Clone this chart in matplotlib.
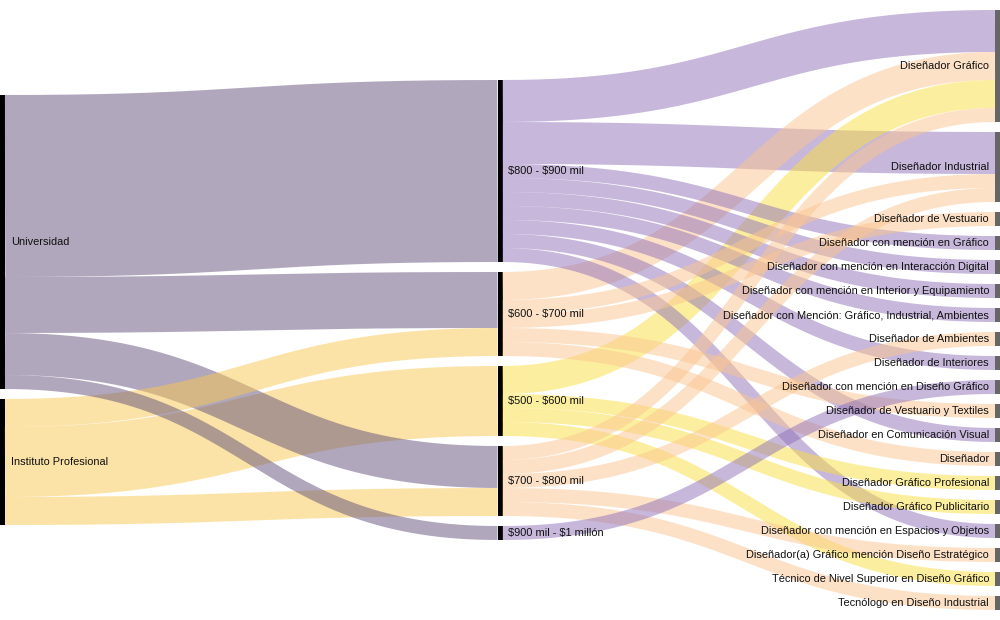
import numpy as np
import matplotlib.pyplot as plt

# nodes per column, top to bottom
col_left = ["Universidad", "Instituto Profesional"]
col_mid = ["$800 - $900 mil", "$600 - $700 mil", "$500 - $600 mil",
           "$700 - $800 mil", "$900 mil - $1 millón"]
col_right = [
    "Diseñador Gráfico",
    "Diseñador Industrial",
    "Diseñador de Vestuario",
    "Diseñador con mención en Gráfico",
    "Diseñador con mención en Interacción Digital",
    "Diseñador con mención en Interior y Equipamiento",
    "Diseñador con Mención: Gráfico, Industrial, Ambientes",
    "Diseñador de Ambientes",
    "Diseñador de Interiores",
    "Diseñador con mención en Diseño Gráfico",
    "Diseñador de Vestuario y Textiles",
    "Diseñador en Comunicación Visual",
    "Diseñador",
    "Diseñador Gráfico Profesional",
    "Diseñador Gráfico Publicitario",
    "Diseñador con mención en Espacios y Objetos",
    "Diseñador(a) Gráfico mención Diseño Estratégico",
    "Técnico de Nivel Superior en Diseño Gráfico",
    "Tecnólogo en Diseño Industrial",
]

# links: source -> target, value
link_src = (
    ["Universidad"] * 4 + ["Instituto Profesional"] * 3
    + ["$800 - $900 mil"] * 9
    + ["$600 - $700 mil"] * 5
    + ["$500 - $600 mil"] * 4
    + ["$700 - $800 mil"] * 5
    + ["$900 mil - $1 millón"]
)
link_tgt = [
    "$800 - $900 mil", "$600 - $700 mil", "$700 - $800 mil", "$900 mil - $1 millón",
    "$600 - $700 mil", "$500 - $600 mil", "$700 - $800 mil",
    # $800 - $900 mil
    "Diseñador Gráfico", "Diseñador Industrial",
    "Diseñador con mención en Gráfico",
    "Diseñador con mención en Interacción Digital",
    "Diseñador con mención en Interior y Equipamiento",
    "Diseñador con Mención: Gráfico, Industrial, Ambientes",
    "Diseñador de Interiores",
    "Diseñador en Comunicación Visual",
    "Diseñador con mención en Espacios y Objetos",
    # $600 - $700 mil
    "Diseñador Gráfico", "Diseñador Industrial", "Diseñador de Vestuario",
    "Diseñador de Vestuario y Textiles", "Diseñador",
    # $500 - $600 mil
    "Diseñador Gráfico", "Diseñador Gráfico Profesional",
    "Diseñador Gráfico Publicitario",
    "Técnico de Nivel Superior en Diseño Gráfico",
    # $700 - $800 mil
    "Diseñador Gráfico", "Diseñador Industrial", "Diseñador de Ambientes",
    "Diseñador(a) Gráfico mención Diseño Estratégico",
    "Tecnólogo en Diseño Industrial",
    # $900 mil - $1 millón
    "Diseñador con mención en Diseño Gráfico",
]
link_val = [13, 4, 3, 1, 2, 5, 2,
            3, 3, 1, 1, 1, 1, 1, 1, 1,
            2, 1, 1, 1, 1,
            2, 1, 1, 1,
            1, 1, 1, 1, 1,
            1]

# link colour follows its source node (drawn at half opacity)
link_colors = {
    "Universidad": "#63517b",
    "Instituto Profesional": "#f9c74f",
    "$800 - $900 mil": "#8f71b9",
    "$600 - $700 mil": "#fbc58f",
    "$500 - $600 mil": "#fbdf41",
    "$700 - $800 mil": "#fbc58f",
    "$900 mil - $1 millón": "#8f71b9",
}

# ---------------------------------------------------------------
# layout (sankey style)
W, H, DPI = 1000, 620, 100
node_w = 5
pad = 10
y_min, y_max = 10, 610
cols = [col_left, col_mid, col_right]
col_top = [95, 80, 10]  # vertical offset of each column after relaxing

val_in, val_out = {}, {}
for s, t, v in zip(link_src, link_tgt, link_val):
    val_out[s] = val_out.get(s, 0) + v
    val_in[t] = val_in.get(t, 0) + v
node_val = {n: max(val_in.get(n, 0), val_out.get(n, 0)) for c in cols for n in c}

ky = min((y_max - y_min - (len(c) - 1) * pad) / sum(node_val[n] for n in c) for c in cols)
kx = (W - node_w) / (len(cols) - 1)

nx0, ny0, ny1 = {}, {}, {}
for ci, c in enumerate(cols):
    y = col_top[ci]
    for n in c:
        nx0[n] = ci * kx
        ny0[n] = y
        ny1[n] = y + node_val[n] * ky
        y = ny1[n] + pad

idx = range(len(link_val))
ly0, ly1 = {}, {}
for c in cols:
    for n in c:
        outs = sorted([i for i in idx if link_src[i] == n], key=lambda i: ny0[link_tgt[i]])
        y = ny0[n]
        for i in outs:
            w = link_val[i] * ky
            ly0[i] = y + w / 2
            y += w
        ins = sorted([i for i in idx if link_tgt[i] == n], key=lambda i: ny0[link_src[i]])
        y = ny0[n]
        for i in ins:
            w = link_val[i] * ky
            ly1[i] = y + w / 2
            y += w

# ---------------------------------------------------------------
fig = plt.figure(figsize=(W / DPI, H / DPI), dpi=DPI)
ax = fig.add_axes([0, 0, 1, 1])
ax.set_xlim(0, W)
ax.set_ylim(H, 0)
ax.axis("off")

t = np.linspace(0, 1, 200)
# wider links first, thin ones on top
for i in sorted(idx, key=lambda i: -link_val[i]):
    s, tg = link_src[i], link_tgt[i]
    xa = nx0[s] + node_w
    xb = nx0[tg]
    xm = (xa + xb) / 2
    ya, yb = ly0[i], ly1[i]
    bx = (1 - t) ** 3 * xa + 3 * (1 - t) ** 2 * t * xm + 3 * (1 - t) * t ** 2 * xm + t ** 3 * xb
    by = (1 - t) ** 3 * ya + 3 * (1 - t) ** 2 * t * ya + 3 * (1 - t) * t ** 2 * yb + t ** 3 * yb
    ax.plot(bx, by, color=link_colors[s], alpha=0.5,
            linewidth=link_val[i] * ky * 72 / DPI, solid_capstyle="butt")

# nodes
for ci, c in enumerate(cols):
    color = "#666666" if ci == len(cols) - 1 else "#000000"
    ax.bar([nx0[n] for n in c], [ny1[n] - ny0[n] for n in c], width=node_w,
           bottom=[ny0[n] for n in c], align="edge", color=color, linewidth=0)

# labels
for c in cols:
    for n in c:
        ym = (ny0[n] + ny1[n]) / 2
        if nx0[n] < W / 2:
            ax.text(nx0[n] + node_w + 6, ym, n, ha="left", va="center",
                    fontsize=7.9, family="Liberation Sans", color="#111111", parse_math=False)
        else:
            ax.text(nx0[n] - 6, ym, n, ha="right", va="center",
                    fontsize=7.9, family="Liberation Sans", color="#111111", parse_math=False)

plt.savefig("out.png", dpi=DPI)
plt.close()
